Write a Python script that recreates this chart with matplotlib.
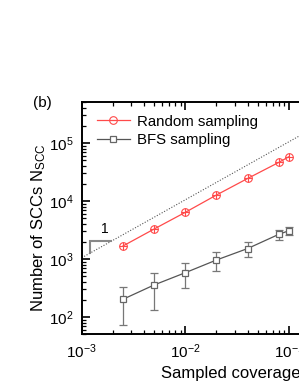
import numpy as np
import matplotlib.pyplot as plt

plt.rcParams['font.family'] = ['Liberation Sans', 'DejaVu Sans']
plt.rcParams['mathtext.fontset'] = 'custom'
plt.rcParams['mathtext.rm'] = 'Liberation Sans'
plt.rcParams['mathtext.it'] = 'Liberation Sans:italic'

# --- data --------------------------------------------------------------
coverage = [0.0025, 0.005, 0.01, 0.02, 0.04, 0.08, 0.1]
n_random = [1675, 3290, 6380, 12700, 24500, 46400, 58100]
n_bfs = [202, 357, 581, 962, 1517, 2668, 3076]
err_bfs = [130, 227, 265, 340, 420, 520, 500]

guide_x = [1e-3, 1.0]
guide_coef = 1.05e6
tri_x = [1.2e-3, 1.2e-3, 1.93e-3]
tri_y = [1260, 2030, 2030]

red = "#ff4a4a"
gray = "#555555"

fig = plt.figure(figsize=(2.99, 3.87), dpi=100)
ax = fig.add_axes([0.2732, 0.1357, 1.0395, 0.5995])

# slope-1 guide line and triangle
gx = np.array(guide_x)
ax.plot(gx, guide_coef * gx, ls=(0, (1, 1.5)), color="#555555", lw=0.8)
ax.plot(tri_x, tri_y, color="#888888", lw=1.5, solid_joinstyle="miter")
ax.text(1.67e-3, 2450, "1", fontsize=10, ha="center", va="bottom")

# random sampling
ax.plot(coverage, n_random, "-", color=red, lw=0.9, marker="o", ms=5.5,
        mfc="none", mec=red, mew=0.8, label="Random sampling")
ax.plot(coverage, n_random, "+", color=red, ms=5.5, mew=0.8)

# BFS sampling
ax.errorbar(coverage, n_bfs, yerr=err_bfs, fmt="none", ecolor="#777777",
            elinewidth=0.9, capsize=3, capthick=0.9)
ax.plot(coverage, n_bfs, "-", color=gray, lw=0.9, marker="s", ms=4.5,
        mfc="white", mec="#666666", mew=0.9, label="BFS sampling")

ax.set_xscale("log")
ax.set_yscale("log")
ax.set_xlim(1e-3, 1.0)
ax.set_ylim(50, 5e5)

ax.tick_params(which="both", direction="in", top=True, right=True,
               labelsize=11, width=1.2, pad=6)
ax.tick_params(which="major", length=6)
ax.tick_params(which="minor", length=3, width=0.9)
for s in ax.spines.values():
    s.set_linewidth(1.4)

ax.set_ylabel("Number of SCCs N$_{\\mathrm{SCC}}$", fontsize=12)
ax.yaxis.set_label_coords(-0.108, 0.459)
ax.set_xlabel("Sampled coverage", fontsize=12, ha="left")
ax.xaxis.set_label_coords(0.2545, -0.137)

ax.legend(loc="upper left", frameon=False, fontsize=10.8, handlelength=2.2,
          handletextpad=0.5, borderaxespad=0.6, labelspacing=0.28,
          bbox_to_anchor=(0.0, 1.012))

fig.text(0.142, 0.735, "(b)", fontsize=11, ha="center", va="center")

fig.savefig("out.png", dpi=100)
